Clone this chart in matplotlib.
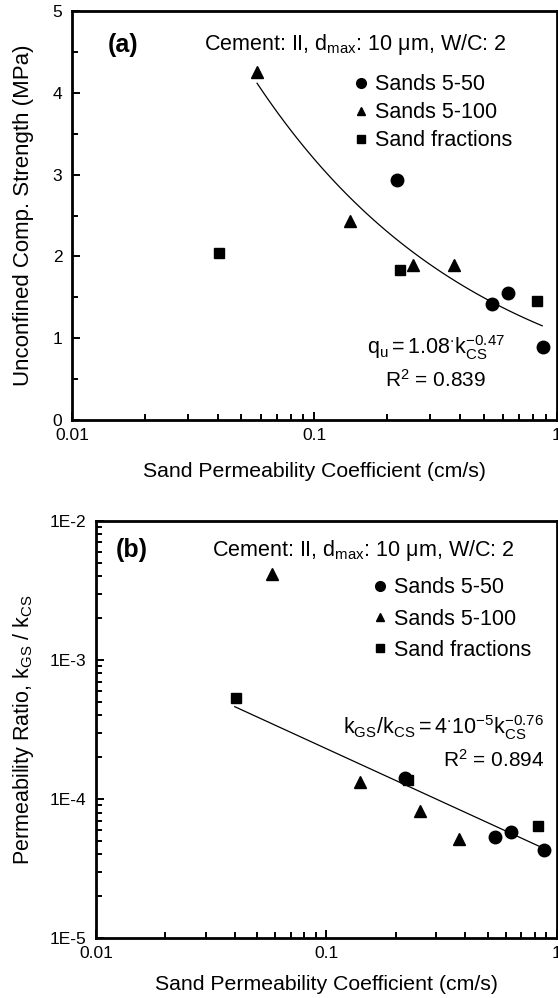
import numpy as np
import matplotlib
matplotlib.use("Agg")
import matplotlib.pyplot as plt
from matplotlib.lines import Line2D
from matplotlib.ticker import FixedLocator, NullFormatter, LogLocator

plt.rcParams['font.family'] = ['Liberation Sans', 'DejaVu Sans']
plt.rcParams['mathtext.fontset'] = 'custom'
plt.rcParams['mathtext.rm'] = 'Liberation Sans'
plt.rcParams['mathtext.it'] = 'Liberation Sans'
plt.rcParams['mathtext.bf'] = 'Liberation Sans:bold'

# sand permeability coefficient k_CS (cm/s)
k_550 = [0.22, 0.54, 0.63, 0.88]
k_5100 = [0.058, 0.14, 0.255, 0.375]
k_frac = [0.0404, 0.225, 0.83]

# unconfined compressive strength (MPa)
q_550 = [2.93, 1.42, 1.55, 0.90]
q_5100 = [4.26, 2.43, 1.89, 1.89]
q_frac = [2.04, 1.83, 1.45]

# permeability ratio k_GS / k_CS
r_550 = [1.41e-4, 5.37e-5, 5.77e-5, 4.31e-5]
r_5100 = [4.18e-3, 1.32e-4, 8.26e-5, 5.16e-5]
r_frac = [5.35e-4, 1.36e-4, 6.37e-5]

# power-law fits: coefficient, exponent, k range
fit_a = (1.08, -0.47, 0.058, 0.87)
fit_b = (4e-5, -0.76, 0.040, 0.84)

labels = ["Sands 5-50", "Sands 5-100", "Sand fractions"]
cement = r"Cement: II, d$_{\mathregular{max}}$: 10 μm, W/C: 2"

fig = plt.figure(figsize=(5.58, 9.98), dpi=100)
ax1 = fig.add_axes([0.129, 0.579, 0.869, 0.410])
ax2 = fig.add_axes([0.172, 0.060, 0.826, 0.418])


def style(ax, xpad):
    for s in ax.spines.values():
        s.set_linewidth(2.0)
    ax.tick_params(which='both', direction='in', labelsize=12.5, width=1.4,
                   top=False, right=False)
    ax.tick_params(which='major', length=6)
    ax.tick_params(which='minor', length=4.3)
    ax.tick_params(axis='x', which='major', pad=6)
    ax.tick_params(axis='y', which='major', pad=7)
    ax.set_xscale('log')
    ax.set_xlim(0.01, 1)
    ax.set_xticks([0.01, 0.1, 1])
    ax.set_xticklabels(["0.01", "0.1", "1"])
    ax.xaxis.set_minor_locator(LogLocator(base=10, subs=np.arange(2, 10)))
    ax.xaxis.set_minor_formatter(NullFormatter())
    ax.set_xlabel("Sand Permeability Coefficient (cm/s)", fontsize=15.3,
                  labelpad=xpad)


def points(ax, ys):
    ax.plot(k_550, ys[0], 'o', color='black', ms=9, ls='none')
    ax.plot(k_5100, ys[1], '^', color='black', ms=8.5, ls='none')
    ax.plot(k_frac, ys[2], 's', color='black', ms=7, ls='none')


def legend(ax, anchor, spacing):
    handles = [Line2D([], [], marker=m, color='black', ls='none', ms=s)
               for m, s in zip(['o', '^', 's'], [7, 6, 5.5])]
    ax.legend(handles, labels, loc='upper left', bbox_to_anchor=anchor,
              frameon=False, fontsize=15.5, handlelength=0.6, handletextpad=0.35,
              labelspacing=spacing, borderpad=0, borderaxespad=0)


# (a) strength
style(ax1, 13)
points(ax1, [q_550, q_5100, q_frac])
c, n, lo, hi = fit_a
kk = np.geomspace(lo, hi, 100)
ax1.plot(kk, c * kk ** n, color='black', lw=0.9)
ax1.set_ylim(0, 5)
ax1.yaxis.set_major_locator(FixedLocator([0, 1, 2, 3, 4, 5]))
ax1.yaxis.set_minor_locator(FixedLocator([0.5, 1.5, 2.5, 3.5, 4.5]))
ax1.set_ylabel("Unconfined Comp. Strength (MPa)", fontsize=16, labelpad=13)
ax1.text(0.074, 0.917, "(a)", transform=ax1.transAxes, fontsize=18,
         fontweight='bold', ha='left', va='center')
ax1.text(0.585, 0.917, cement, transform=ax1.transAxes, fontsize=15.5,
         ha='center', va='center')
legend(ax1, (0.582, 0.845), 0.32)
ax1.text(0.75, 0.178, r"$\mathregular{q_u = 1.08^{\cdot}k_{CS}^{-0.47}}$",
         transform=ax1.transAxes, fontsize=15.5, ha='center', va='center')
ax1.text(0.75, 0.098, r"$\mathregular{R^2}$ = 0.839", transform=ax1.transAxes,
         fontsize=15, ha='center', va='center')

# (b) permeability ratio
style(ax2, 10)
points(ax2, [r_550, r_5100, r_frac])
c, n, lo, hi = fit_b
kk = np.geomspace(lo, hi, 100)
ax2.plot(kk, c * kk ** n, color='black', lw=0.9)
ax2.set_yscale('log')
ax2.set_ylim(1e-5, 1e-2)
ax2.set_yticks([1e-5, 1e-4, 1e-3, 1e-2])
ax2.set_yticklabels(["1E-5", "1E-4", "1E-3", "1E-2"])
ax2.yaxis.set_minor_locator(LogLocator(base=10, subs=np.arange(2, 10)))
ax2.yaxis.set_minor_formatter(NullFormatter())
ax2.set_ylabel(r"Permeability Ratio, k$_{\mathregular{GS}}$ / k$_{\mathregular{CS}}$",
               fontsize=15.5, labelpad=10)
ax2.text(0.043, 0.930, "(b)", transform=ax2.transAxes, fontsize=18,
         fontweight='bold', ha='left', va='center')
ax2.text(0.579, 0.930, cement, transform=ax2.transAxes, fontsize=15.5,
         ha='center', va='center')
legend(ax2, (0.603, 0.865), 0.48)
ax2.text(0.972, 0.504,
         r"$\mathregular{k_{GS}/k_{CS} = 4^{\cdot}10^{-5}k_{CS}^{-0.76}}$",
         transform=ax2.transAxes, fontsize=15.5, ha='right', va='center')
ax2.text(0.972, 0.427, r"$\mathregular{R^2}$ = 0.894", transform=ax2.transAxes,
         fontsize=15, ha='right', va='center')

fig.savefig("out.png", dpi=100)
